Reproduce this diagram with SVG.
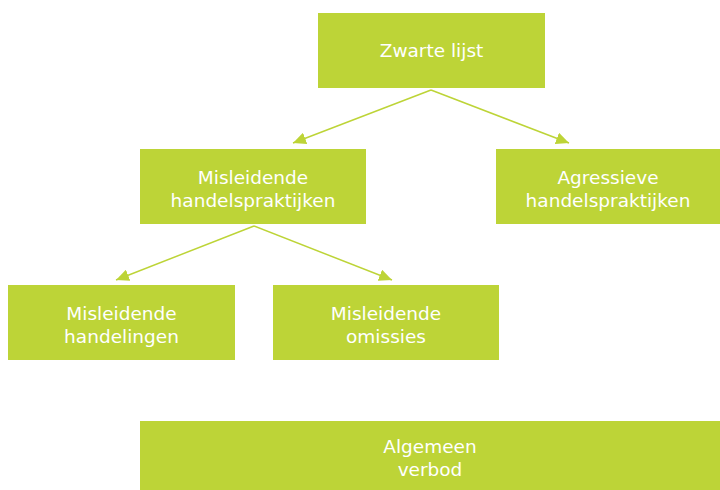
<svg xmlns="http://www.w3.org/2000/svg" width="720" height="490" viewBox="0 0 720 490">
<style>
.box{fill:#BDD437}
.t{font-family:"DejaVu Sans",sans-serif;font-size:18.5px;fill:#FFFFFF;text-anchor:middle}
.c{stroke:#BDD437;stroke-width:1.5;fill:none}
</style>
<defs>
<marker id="ah" viewBox="0 0 10 10" refX="10" refY="5" markerWidth="13" markerHeight="12" markerUnits="userSpaceOnUse" orient="auto" preserveAspectRatio="none">
<path d="M0,0 L10,5 L0,10 z" fill="#BDD437"/>
</marker>
</defs>
<rect width="720" height="490" fill="#FFFFFF"/>
<g id="connectors">
<line class="c" x1="431" y1="90" x2="293" y2="143" marker-end="url(#ah)"/>
<line class="c" x1="431" y1="90" x2="569" y2="143" marker-end="url(#ah)"/>
<line class="c" x1="254" y1="226" x2="116" y2="280" marker-end="url(#ah)"/>
<line class="c" x1="254" y1="226" x2="392" y2="280" marker-end="url(#ah)"/>
</g>
<g id="zwarte-lijst">
<rect class="box" x="318" y="13" width="227" height="75"/>
<text class="t" x="431.5" y="57">Zwarte lijst</text>
</g>
<g id="misleidende-handelspraktijken">
<rect class="box" x="140" y="149" width="226" height="75"/>
<text class="t" x="253" y="184">Misleidende</text>
<text class="t" x="253" y="207">handelspraktijken</text>
</g>
<g id="agressieve-handelspraktijken">
<rect class="box" x="496" y="149" width="224" height="75"/>
<text class="t" x="608" y="184">Agressieve</text>
<text class="t" x="608" y="207">handelspraktijken</text>
</g>
<g id="misleidende-handelingen">
<rect class="box" x="8" y="285" width="227" height="75"/>
<text class="t" x="121.5" y="320">Misleidende</text>
<text class="t" x="121.5" y="343">handelingen</text>
</g>
<g id="misleidende-omissies">
<rect class="box" x="273" y="285" width="226" height="75"/>
<text class="t" x="386" y="320">Misleidende</text>
<text class="t" x="386" y="343">omissies</text>
</g>
<g id="algemeen-verbod">
<rect class="box" x="140" y="421" width="580" height="69"/>
<text class="t" x="430" y="453">Algemeen</text>
<text class="t" x="430" y="476">verbod</text>
</g>
</svg>
